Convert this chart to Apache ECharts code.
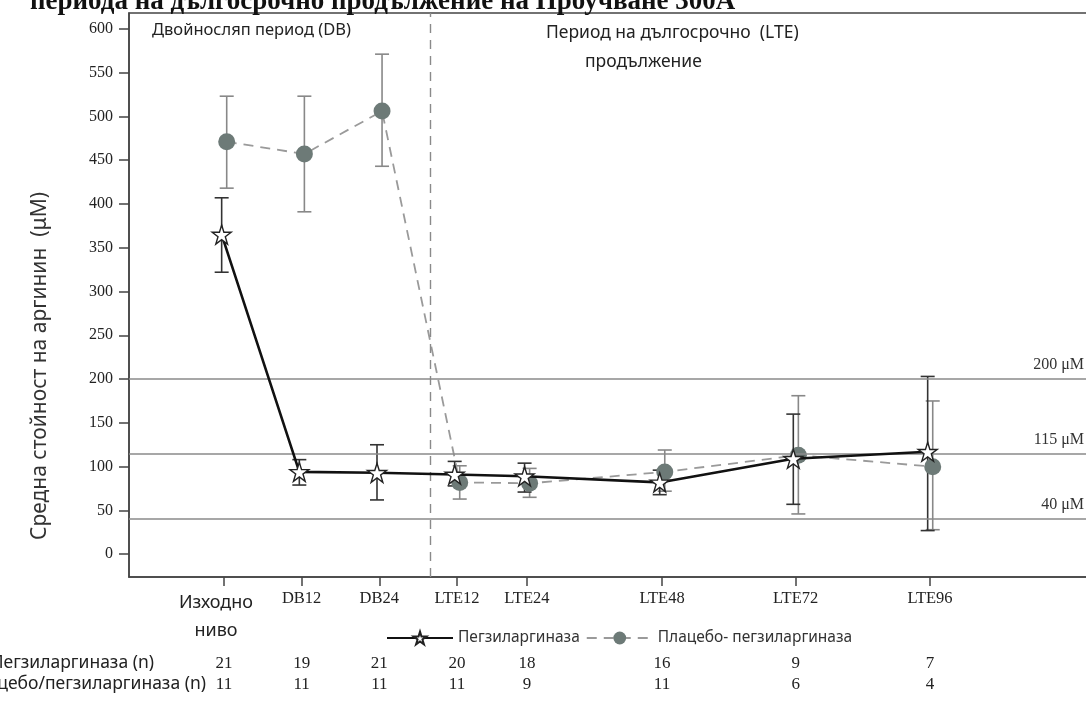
<!DOCTYPE html>
<html>
<head>
<meta charset="utf-8">
<script src="https://cdn.jsdelivr.net/npm/echarts@6/dist/echarts.min.js"></script>
<style>
  html, body { margin: 0; padding: 0; background: #fff; }
  #chart { width: 1086px; height: 705px; }
</style>
</head>
<body>
<div id="chart"></div>
<script>
// visits and their spacing along the x axis
var visits = ['Изходно ниво', 'DB12', 'DB24', 'LTE12', 'LTE24', 'LTE48', 'LTE72', 'LTE96'];
var xPos = [0, 1, 2, 3, 3.9, 5.64, 7.36, 9.09];

// Пегзиларгиназа: mean, lower, upper
var pegMean = [365, 94, 93, 91, 89, 82, 109, 117];
var pegLow  = [322, 79, 62, 78, 71, 68, 57, 27];
var pegHigh = [407, 108, 125, 106, 104, 96, 160, 203];

// Плацебо/пегзиларгиназа
var plaMean = [471, 457, 506, 82, 81, 94, 113, 100];
var plaLow  = [418, 391, 443, 63, 65, 72, 46, 28];
var plaHigh = [523, 523, 571, 101, 98, 119, 181, 175];

// number of patients
var nPeg = [21, 19, 21, 20, 18, 16, 9, 7];
var nPla = [11, 11, 11, 11, 9, 11, 6, 4];

var refLines = [200, 115, 40];
var yTicks = [0, 50, 100, 150, 200, 250, 300, 350, 400, 450, 500, 550, 600];
var periodSplit = 2.65;

var serif = 'Liberation Serif';
var sans = 'Noto Sans';
var starPath = 'path://M50,2 L61,36 L97,36 L68,57 L79,92 L50,71 L21,92 L32,57 L3,36 L39,36 Z';
var xMin = -1.223, xMax = 11.15;

var chart = echarts.init(document.getElementById('chart'));

function pairs(xs, ys, dx) {
  return xs.map(function (x, i) { return [x + dx, ys[i]]; });
}
function errData(xs, lo, hi, dx) {
  return xs.map(function (x, i) { return [x + dx, lo[i], hi[i]]; });
}
function errRender(color) {
  return function (params, api) {
    var x = api.value(0);
    var a = api.coord([x, api.value(1)]);
    var b = api.coord([x, api.value(2)]);
    var w = 7;
    var st = { stroke: color, lineWidth: 1.6 };
    return {
      type: 'group',
      children: [
        { type: 'line', shape: { x1: a[0], y1: a[1], x2: b[0], y2: b[1] }, style: st },
        { type: 'line', shape: { x1: a[0] - w, y1: a[1], x2: a[0] + w, y2: a[1] }, style: st },
        { type: 'line', shape: { x1: b[0] - w, y1: b[1], x2: b[0] + w, y2: b[1] }, style: st }
      ]
    };
  };
}
function nAxis(list, offset) {
  return {
    type: 'value', min: xMin, max: xMax, position: 'bottom', offset: offset,
    axisLine: { show: false, onZero: false }, axisTick: { show: false }, splitLine: { show: false },
    axisLabel: {
      customValues: xPos, margin: 8, fontFamily: serif, fontSize: 17, color: '#222',
      formatter: function (v) { return String(list[xPos.indexOf(v)]); }
    }
  };
}

var option = {
  backgroundColor: '#fff',
  animation: false,
  grid: {
    left: 129, top: 13, right: -4, bottom: 128, outerBoundsMode: 'none',
    show: true, borderColor: '#444', borderWidth: 1.5
  },
  legend: {
    left: 381, top: 625, itemWidth: 66, itemHeight: 16, itemGap: 6,
    textStyle: { fontFamily: sans, fontSize: 15.5, color: '#333' },
    data: ['Пегзиларгиназа', 'Плацебо- пегзиларгиназа']
  },
  xAxis: [{
    type: 'value', min: xMin, max: xMax,
    axisLine: { onZero: false, lineStyle: { color: '#444', width: 1.5 } },
    axisTick: { customValues: xPos, length: 9, lineStyle: { color: '#444', width: 1.5 } },
    splitLine: { show: false },
    axisLabel: {
      customValues: xPos, margin: 12, color: '#222',
      formatter: function (v) {
        var s = visits[xPos.indexOf(v)];
        return v === 0 ? '{b|Изходно}\n{b|ниво}' : '{a|' + s + '}';
      },
      rich: {
        a: { fontFamily: serif, fontSize: 16.5, color: '#222', lineHeight: 20 },
        b: { fontFamily: sans, fontSize: 18, color: '#222', lineHeight: 28, padding: [0, 16, 0, 0] }
      }
    }
  }, nAxis(nPeg, 70), nAxis(nPla, 91)],
  yAxis: {
    type: 'value', min: -26, max: 618,
    axisLine: { show: true, onZero: false, lineStyle: { color: '#444', width: 1.5 } },
    axisTick: { show: true, customValues: yTicks, length: 10, lineStyle: { color: '#444', width: 1.5 } },
    splitLine: { show: false },
    axisLabel: { customValues: yTicks, margin: 16, fontFamily: serif, fontSize: 16, color: '#222' }
  },
  graphic: [
    { type: 'text', left: 30, top: -11, style: { text: 'периода на дългосрочно продължение на Проучване 300А', font: 'bold 27px "' + serif + '"', fill: '#111' } },
    { type: 'text', left: 152, top: 22, style: { text: 'Двойносляп период (DB)', font: '16.5px "' + sans + '"', fill: '#222' } },
    { type: 'text', left: 546, top: 24, style: { text: 'Период на дългосрочно  (LTE)', font: '17.5px "' + sans + '"', fill: '#222' } },
    { type: 'text', left: 585, top: 53, style: { text: 'продължение', font: '17.5px "' + sans + '"', fill: '#222' } },
    { type: 'text', x: 40, y: 366, rotation: Math.PI / 2,
      style: { text: 'Средна стойност на аргинин  (μM)', font: '21px "' + sans + '"', fill: '#333', align: 'center', verticalAlign: 'middle' } },
    { type: 'text', x: 154, y: 663, style: { text: 'Пегзиларгиназа (n)', font: '17.5px "' + sans + '"', fill: '#222', align: 'right', verticalAlign: 'middle' } },
    { type: 'text', x: 206, y: 684, style: { text: 'Плацебо/пегзиларгиназа (n)', font: '17.5px "' + sans + '"', fill: '#222', align: 'right', verticalAlign: 'middle' } }
  ],
  series: [
    {
      name: 'refs', type: 'line', data: [], silent: true,
      markLine: {
        symbol: 'none', silent: true,
        lineStyle: { color: '#8a8a8a', width: 1.6, type: 'solid' },
        label: {
          position: 'insideEndTop', distance: [0, 6], fontFamily: serif, fontSize: 16, color: '#333',
          padding: [0, 6, 0, 0],
          formatter: function (p) { return p.value + ' μM'; }
        },
        data: refLines.map(function (v) { return { yAxis: v }; }).concat([{
          xAxis: periodSplit, label: { show: false },
          lineStyle: { color: '#8a8a8a', width: 1.4, type: [9, 7] }
        }])
      }
    },
    {
      type: 'custom', name: 'plaErr', renderItem: errRender('#888'),
      data: errData(xPos, plaLow, plaHigh, 0.035), z: 2
    },
    {
      type: 'custom', name: 'pegErr', renderItem: errRender('#333'),
      data: errData(xPos, pegLow, pegHigh, -0.03), z: 3
    },
    {
      name: 'Плацебо- пегзиларгиназа', type: 'line', z: 4,
      data: pairs(xPos, plaMean, 0.035),
      symbol: 'circle', symbolSize: 17,
      itemStyle: { color: '#6d7a77' },
      lineStyle: { color: '#9a9a9a', width: 1.8, type: [10, 7] }
    },
    {
      name: 'Пегзиларгиназа', type: 'line', z: 5,
      data: pairs(xPos, pegMean, -0.03),
      symbol: starPath, symbolSize: 19,
      itemStyle: { color: '#fff', borderColor: '#222', borderWidth: 1.4 },
      lineStyle: { color: '#111', width: 2.6 }
    }
  ]
};
chart.setOption(option);
</script>
</body>
</html>
